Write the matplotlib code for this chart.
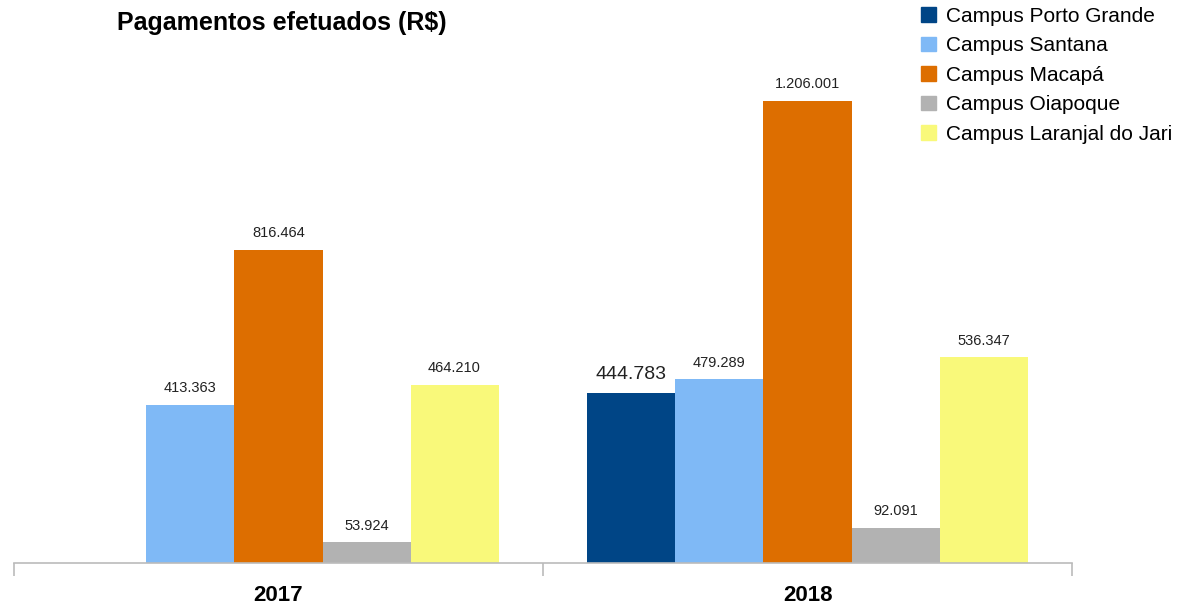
import matplotlib
matplotlib.use("Agg")
from matplotlib import pyplot as plt
from matplotlib.patches import Patch

plt.rcParams['font.family'] = ['Liberation Sans', 'DejaVu Sans']

years = ['2017', '2018']
campus = ['Campus Porto Grande', 'Campus Santana', 'Campus Macapá',
          'Campus Oiapoque', 'Campus Laranjal do Jari']
porto_grande = [0, 444783]
santana = [413363, 479289]
macapa = [816464, 1206001]
oiapoque = [53924, 92091]
laranjal = [464210, 536347]
colors = ['#004586', '#7fb9f6', '#dd6e00', '#b2b2b2', '#f9f97a']

series = [porto_grande, santana, macapa, oiapoque, laranjal]


def fmt(v):
    return '{:,}'.format(v).replace(',', '.')


fig = plt.figure(figsize=(11.82, 6.05), dpi=100)
ax = fig.add_axes([14 / 1182, 42 / 605, 1058 / 1182, 543 / 605])

w = 0.1664
x = list(range(len(years)))
for i, vals in enumerate(series):
    xs = [xx + (i - 2) * w for xx in x]
    ax.bar(xs, vals, width=w, color=colors[i], linewidth=0)
    for xx, v in zip(xs, vals):
        if v == 0:
            continue
        size = 14 if i == 0 else 10.5
        ax.annotate(fmt(v), (xx, v), xytext=(0, 7), textcoords='offset points',
                    ha='center', va='bottom', fontsize=size, color='#222222')

ax.set_xlim(-0.5, 1.5)
ax.set_ylim(0, 1417000)
ax.set_yticks([])
for s in ['top', 'right', 'left']:
    ax.spines[s].set_visible(False)
ax.spines['bottom'].set_color('#bbbbbb')
ax.spines['bottom'].set_linewidth(1.2)

ax.set_xticks(x)
ax.set_xticklabels(years, fontsize=16, fontweight='bold')
ax.tick_params(axis='x', which='major', length=0, pad=16)
ax.set_xticks([-0.5, 0.5, 1.5], minor=True)
ax.tick_params(axis='x', which='minor', length=9, color='#bbbbbb', width=1.2)

fig.text(117 / 1182, 1 - 23 / 605, 'Pagamentos efetuados (R$)', fontsize=18,
         fontweight='bold', va='center', ha='left')

handles = [Patch(color=c) for c in colors]
fig.legend(handles, campus, loc='upper left', bbox_to_anchor=(921 / 1182, 1 - 7 / 605),
           frameon=False, fontsize=15, handlelength=0.7, handleheight=0.7,
           handletextpad=0.5, labelspacing=0.5, borderaxespad=0, borderpad=0)

plt.savefig('out.png', dpi=100)
